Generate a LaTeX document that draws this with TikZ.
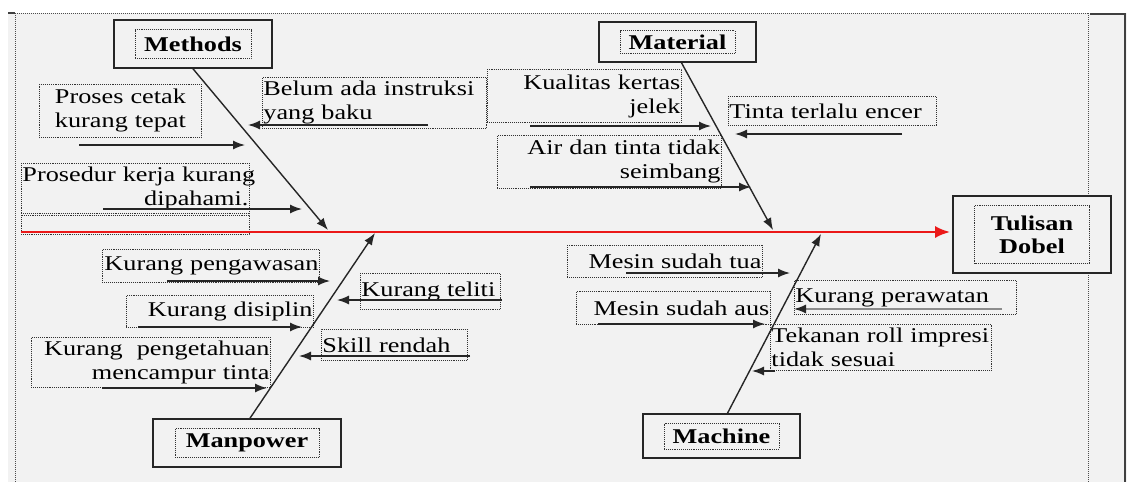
\documentclass[tikz,border=0pt]{standalone}
\usepackage{fontspec}
\setmainfont{Liberation Serif}[FakeStretch=1.25]
\usepackage{tikz}
\usetikzlibrary{arrows.meta}
\definecolor{paper}{HTML}{F2F2F2}
\definecolor{spinered}{RGB}{235,25,25}
\newcommand{\causefont}{\fontsize{21}{24}\selectfont\spaceskip=0.12em plus 0.1em\relax\hyphenpenalty=10000\exhyphenpenalty=10000\hfuzz=20pt\relax}
\newcommand{\catfont}{\fontsize{21}{23}\selectfont\bfseries}
\tikzstyle{frame}=[draw=black!70,densely dotted,line width=1pt]
\tikzstyle{cause}=[draw=black!80,densely dotted,line width=0.9pt,inner xsep=1pt,inner ysep=0pt,anchor=north west,font=\causefont]
\tikzstyle{catbox}=[draw=black!85,line width=1.6pt,fill=paper]
\tikzstyle{catlabel}=[draw=black!80,densely dotted,line width=0.9pt,inner sep=0pt,align=center,font=\catfont]
\tikzstyle{bone}=[draw=black!85,line width=1.4pt,-{Latex[length=12pt,width=9pt]}]
\tikzstyle{causearrow}=[draw=black!85,line width=1.4pt,-{Latex[length=12pt,width=9pt]}]
\tikzstyle{spine}=[draw=spinered,line width=2.6pt,-{Latex[length=15pt,width=12pt]}]
\begin{document}
\begin{tikzpicture}[x=1pt,y=-1pt]

  \fill[paper] (8,13) rectangle (1127,482);
  \useasboundingbox (0,0) rectangle (1127,482);

  % frame
  \draw[frame] (15,13) -- (1088,13);
  \draw[frame] (15,13) -- (15,482);
  \draw[frame] (1088,13) -- (1088,482);
  \draw[black!75,line width=1.2pt] (8,13) -- (15,13);
  \draw[black!75,line width=1.2pt] (1090,14) -- (1125,14) -- (1125,482);

  % causes
  \foreach \x/\y/\w/\h/\al/\name/\txt in {
      39/84/162/53/center/proses/{Proses cetak\\kurang tepat},
      262/77/224/51/left/belum/{Belum ada instruksi\\yang baku},
      21/163/228/50/right/prosedur/{Prosedur~kerja~kurang\\dipahami.},
      487/69/194/53/right/kualitas/{Kualitas kertas\\jelek},
      728/96/208/29/left/tinta/{Tinta terlalu encer},
      497/135/224/53/right/air/{Air dan tinta tidak\\seimbang},
      102/249/217/33/right/pengawasan/{Kurang~pengawasan},
      360/273/140/36/left/teliti/{Kurang teliti},
      126/295/187/32/right/disiplin/{Kurang disiplin},
      321/329/146/31/left/skill/{Skill rendah},
      31/337/239/50/right/pengetahuan/{Kurang\ \ pengetahuan\\mencampur tinta},
      567/245/195/32/right/tua/{Mesin sudah tua},
      576/291/194/33/right/aus/{Mesin sudah aus},
      794/280/222/34/left/perawatan/{Kurang perawatan},
      770/324/221/46/left/tekanan/{Tekanan~roll~impresi\\tidak sesuai}}
  {
    \pgfmathsetmacro{\tw}{\w-2}
    \node[cause,minimum width=\w,minimum height=\h,text width=\tw pt,align/.expand once=\al] (\name) at (\x,\y) {\txt};
  }
  \draw[draw=black!80,densely dotted,line width=0.9pt] (21,215) rectangle (249,234);

  % categories
  \foreach \x/\y/\wo/\ho/\wi/\hi/\name/\txt in {
      193/44/158/48/116/29/methods/Methods,
      677.5/42/157/40/115/23/material/Material,
      247/443/188/48/144/29/manpower/Manpower,
      721.5/436/157/44/115/26/machine/Machine,
      1032/234.5/158/77/115/58/tulisan/{Tulisan\\Dobel}}
  {
    \node[catbox,minimum width=\wo,minimum height=\ho] (\name) at (\x,\y) {};
    \node[catlabel,minimum width=\wi,minimum height=\hi] (\name-label) at (\name) {\txt};
  }

  % spine
  \coordinate (tail) at (21,232);
  \draw[spine,shorten >=2pt] (tail) -- (tail -| tulisan.west);

  % bones
  \coordinate (methods-head) at (328,230);
  \coordinate (material-head) at (773,230);
  \coordinate (manpower-head) at (375,233);
  \coordinate (machine-head) at (821,234);
  \draw[bone] (methods.south) -- (methods-head);
  \draw[bone] ([xshift=4pt]material.south) -- (material-head);
  \draw[bone] ([xshift=3pt]manpower.north) -- (manpower-head);
  \draw[bone] ([xshift=6pt]machine.north) -- (machine-head);

  % cause arrows
  \foreach \name/\xa/\xb/\y in {proses/79/245/145, belum/428/248/125, prosedur/103/302/209,
      kualitas/530/711/126, tinta/902/735/134, air/530/751/187,
      pengawasan/167/330/281, teliti/502/337/300, disiplin/138/302/327,
      skill/470/299/356, pengetahuan/102/267/388,
      tua/626/790/273, aus/598/765/324, tekanan/775/752/371}
  {
    \coordinate (\name-s) at (\xa,\y);
    \coordinate (\name-e) at (\xb,\y);
    \draw[causearrow] (\name-s) -- (\name-e);
  }
  \coordinate (perawatan-s) at (1002,309);
  \coordinate (perawatan-e) at (794,309);
  \draw[causearrow,draw=black!45,-{Latex[length=12pt,width=9pt,color=black!85]}] (perawatan-s) -- (perawatan-e);

\end{tikzpicture}
\end{document}
